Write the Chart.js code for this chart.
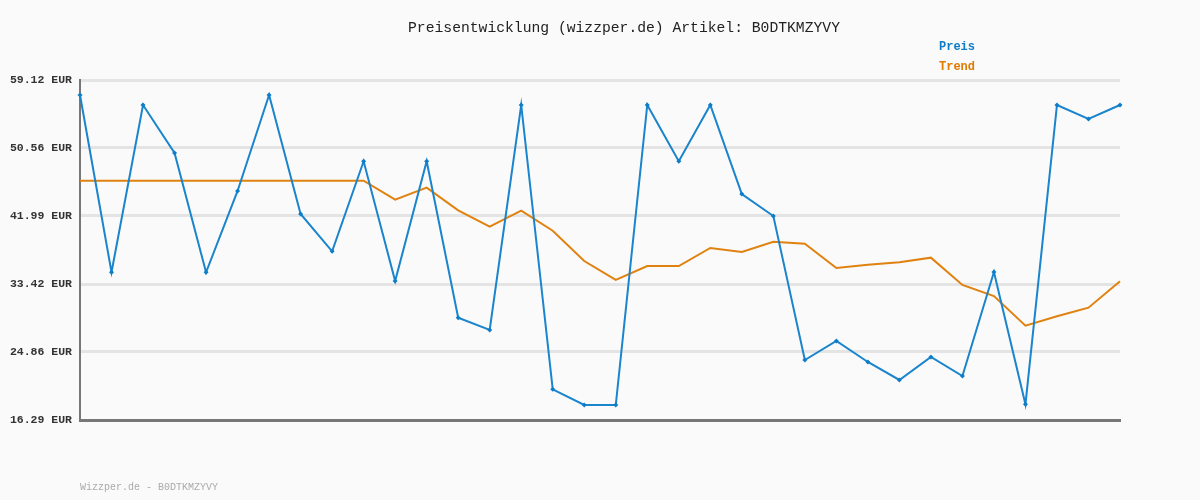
<!DOCTYPE html>
<html>
<head>
<meta charset="utf-8">
<script src="https://cdn.jsdelivr.net/npm/chart.js@4"></script>
<style>
  body { margin: 0; background: #fafafa; }
  #wrap { width: 1200px; height: 500px; position: relative; }
</style>
</head>
<body>
<div id="wrap"><canvas id="price-chart" width="1200" height="500"></canvas></div>
<script>
// Preisdaten
const labels = ["1", "2", "3", "4", "5", "6", "7", "8", "9", "10", "11", "12",
    "13", "14", "15", "16", "17", "18", "19", "20", "21", "22", "23", "24",
    "25", "26", "27", "28", "29", "30", "31", "32", "33", "34"];
const preis = [57.23, 34.90, 55.97, 49.92, 34.90, 45.14, 57.23, 42.24, 37.54, 48.88,
    33.80, 48.88, 29.18, 27.63, 55.97, 20.16, 18.18, 18.18, 55.97, 48.88,
    55.97, 44.76, 41.99, 23.85, 26.24, 23.60, 21.33, 24.23, 21.83, 34.93,
    18.27, 55.97, 54.21, 55.97];
const trend = [46.44, 46.44, 46.44, 46.44, 46.44, 46.44, 46.44, 46.44, 46.44, 46.44,
    44.05, 45.56, 42.70, 40.64, 42.66, 40.14, 36.32, 33.93, 35.69, 35.69,
    37.96, 37.45, 38.75, 38.50, 35.44, 35.86, 36.15, 36.74, 33.30, 31.91,
    28.17, 29.35, 30.44, 33.76];
const yTicks = [16.29, 24.86, 33.42, 41.99, 50.56, 59.12];

const mono = "'Liberation Mono', 'DejaVu Sans Mono', monospace";

// Titel, Legende und Fusszeile
const textPlugin = {
    id: 'texts',
    afterDraw(chart) {
        const ctx = chart.ctx;
        ctx.save();
        ctx.textBaseline = 'middle';
        ctx.font = "14.7px " + mono;
        ctx.fillStyle = '#222';
        ctx.textAlign = 'center';
        ctx.fillText("Preisentwicklung (wizzper.de) Artikel: B0DTKMZYVY", 624, 28);
        ctx.textAlign = 'left';
        ctx.font = "bold 12px " + mono;
        ctx.fillStyle = '#0e7dc8';
        ctx.fillText("Preis", 939, 47);
        ctx.fillStyle = '#e07a00';
        ctx.fillText("Trend", 939, 67);
        ctx.font = "10px " + mono;
        ctx.fillStyle = '#aaa';
        ctx.fillText("Wizzper.de - B0DTKMZYVY", 80, 487);
        ctx.restore();
    }
};

const canvas = document.getElementById("price-chart");
let priceChart = new Chart(canvas, {
    type: 'line',
    data: {
        labels: labels,
        datasets: [{
            label: 'Preis',
            data: preis,
            borderColor: '#1a84cc',
            backgroundColor: '#0e7dc8',
            borderWidth: 2,
            pointStyle: 'rectRot',
            pointRadius: 2.5,
            pointBorderWidth: 0,
            tension: 0
        }, {
            label: 'Trend',
            data: trend,
            borderColor: '#e0820f',
            borderWidth: 2,
            pointRadius: 0,
            tension: 0
        }]
    },
    options: {
        responsive: false,
        animation: false,
        layout: {
            padding: { top: 80, right: 80, bottom: 80, left: 0 }
        },
        scales: {
            x: {
                offset: false,
                grid: { display: false },
                border: { display: true, color: '#777', width: 3 },
                ticks: { display: false },
                afterFit(s) { s.height = 0; }
            },
            y: {
                min: 16.29,
                max: 59.12,
                afterBuildTicks(s) { s.ticks = yTicks.map(v => ({ value: v })); },
                afterFit(s) { s.width = 80; },
                grid: { color: '#e4e4e4', lineWidth: 3, drawTicks: false },
                border: { display: true, color: '#777', width: 2 },
                ticks: {
                    padding: 8,
                    color: '#333',
                    font: { family: mono, size: 11.5, weight: 'bold' },
                    callback: v => v.toFixed(2) + ' EUR'
                }
            }
        },
        plugins: {
            legend: { display: false },
            title: { display: false },
            tooltip: { enabled: false }
        }
    },
    plugins: [textPlugin]
});
</script>
</body>
</html>
